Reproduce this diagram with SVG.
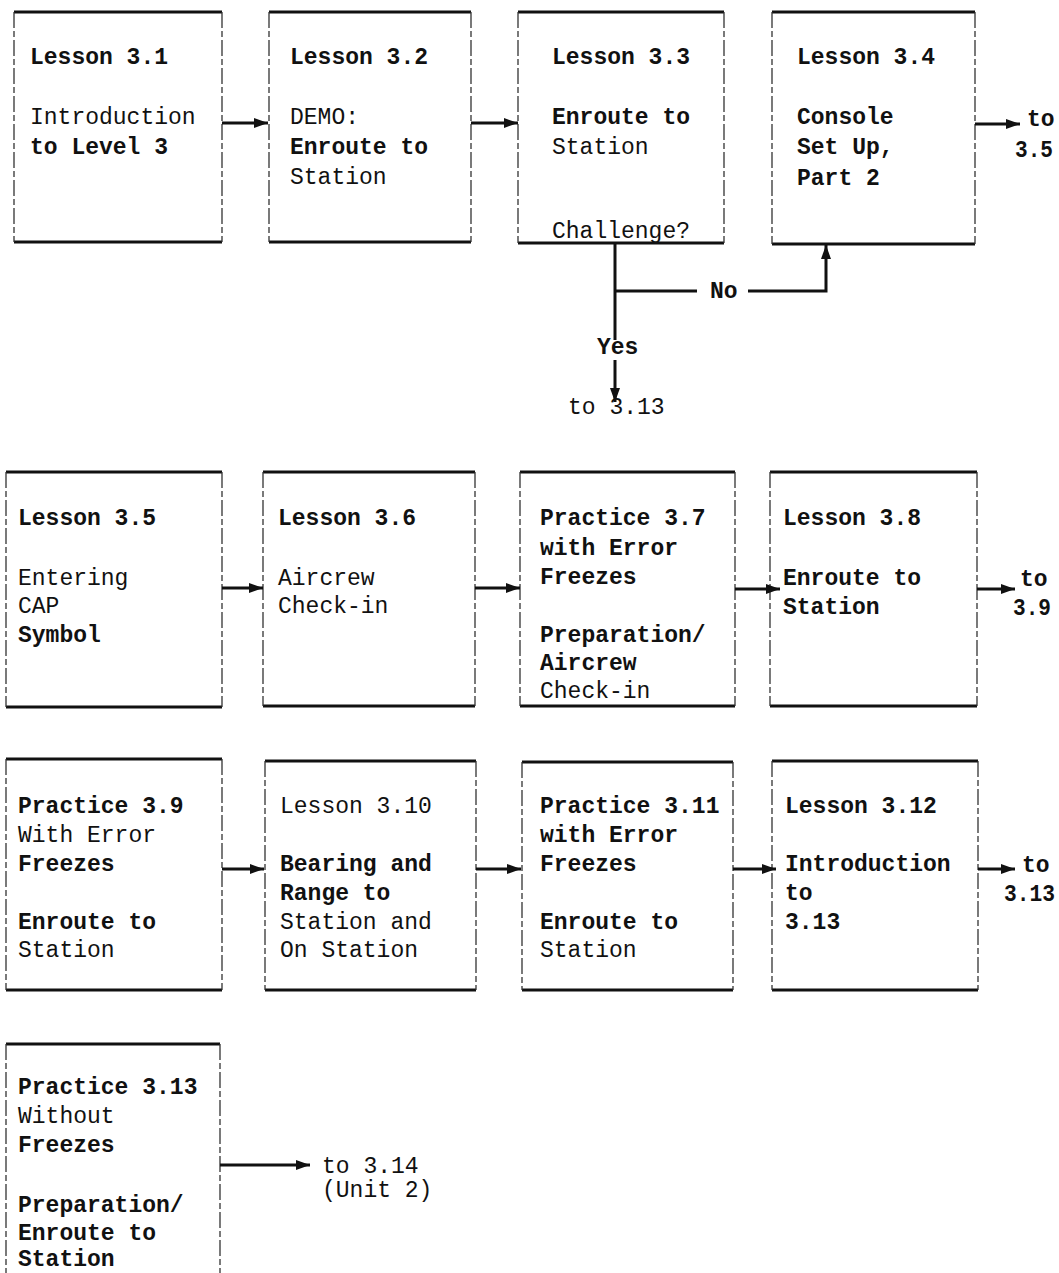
<svg xmlns="http://www.w3.org/2000/svg" width="1059" height="1273" viewBox="0 0 1059 1273">
<style>
  text { font-family: "Liberation Mono", "Courier New", monospace; font-size: 23px; fill: #111; }
  .b { font-weight: bold; }
  .edge { stroke: #111; stroke-width: 3; fill: none; }
  .side { stroke: #333; stroke-width: 1.3; fill: none; stroke-dasharray: 16 3 6 3; }
  .conn { stroke: #111; stroke-width: 3; fill: none; }
</style>
<defs>
  <marker id="ah" markerUnits="userSpaceOnUse" markerWidth="14" markerHeight="10" refX="14" refY="5" orient="auto">
    <path d="M0,0 L14,5 L0,10 z" fill="#111"/>
  </marker>
</defs>
<rect width="1059" height="1273" fill="#fff"/>

<g id="n31">
  <path class="edge" d="M14 12 H222 M14 242 H222"/>
  <path class="side" d="M14 12 V242 M222 12 V242"/>
  <text x="30" y="64" class="b">Lesson 3.1</text>
  <text x="30" y="124">Introduction</text>
  <text x="30" y="154" class="b">to Level 3</text>
</g>
<g id="n32">
  <path class="edge" d="M269 12 H471 M269 242 H471"/>
  <path class="side" d="M269 12 V242 M471 12 V242"/>
  <text x="290" y="64" class="b">Lesson 3.2</text>
  <text x="290" y="124">DEMO:</text>
  <text x="290" y="154" class="b">Enroute to</text>
  <text x="290" y="184">Station</text>
</g>
<g id="n33">
  <path class="edge" d="M518 12 H724 M518 243 H724"/>
  <path class="side" d="M518 12 V243 M724 12 V243"/>
  <text x="552" y="64" class="b">Lesson 3.3</text>
  <text x="552" y="124" class="b">Enroute to</text>
  <text x="552" y="154">Station</text>
  <text x="552" y="238">Challenge?</text>
</g>
<g id="n34">
  <path class="edge" d="M772 12 H975 M772 244 H975"/>
  <path class="side" d="M772 12 V244 M975 12 V244"/>
  <text x="797" y="64" class="b">Lesson 3.4</text>
  <text x="797" y="124" class="b">Console</text>
  <text x="797" y="154" class="b">Set Up,</text>
  <text x="797" y="185" class="b">Part 2</text>
</g>

<g id="n35">
  <path class="edge" d="M6 472 H222 M6 707 H222"/>
  <path class="side" d="M6 472 V707 M222 472 V707"/>
  <text x="18" y="525" class="b">Lesson 3.5</text>
  <text x="18" y="585">Entering</text>
  <text x="18" y="613">CAP</text>
  <text x="18" y="642" class="b">Symbol</text>
</g>
<g id="n36">
  <path class="edge" d="M263 472 H475 M263 706 H475"/>
  <path class="side" d="M263 472 V706 M475 472 V706"/>
  <text x="278" y="525" class="b">Lesson 3.6</text>
  <text x="278" y="585">Aircrew</text>
  <text x="278" y="613">Check-in</text>
</g>
<g id="n37">
  <path class="edge" d="M520 472 H735 M520 706 H735"/>
  <path class="side" d="M520 472 V706 M735 472 V706"/>
  <text x="540" y="525" class="b">Practice 3.7</text>
  <text x="540" y="555" class="b">with Error</text>
  <text x="540" y="584" class="b">Freezes</text>
  <text x="540" y="642" class="b">Preparation/</text>
  <text x="540" y="670" class="b">Aircrew</text>
  <text x="540" y="698">Check-in</text>
</g>
<g id="n38">
  <path class="edge" d="M770 472 H977 M770 706 H977"/>
  <path class="side" d="M770 472 V706 M977 472 V706"/>
  <text x="783" y="525" class="b">Lesson 3.8</text>
  <text x="783" y="585" class="b">Enroute to</text>
  <text x="783" y="614" class="b">Station</text>
</g>

<g id="n39">
  <path class="edge" d="M6 759 H222 M6 990 H222"/>
  <path class="side" d="M6 759 V990 M222 759 V990"/>
  <text x="18" y="813" class="b">Practice 3.9</text>
  <text x="18" y="842">With Error</text>
  <text x="18" y="871" class="b">Freezes</text>
  <text x="18" y="929" class="b">Enroute to</text>
  <text x="18" y="957">Station</text>
</g>
<g id="n310">
  <path class="edge" d="M265 761 H476 M265 990 H476"/>
  <path class="side" d="M265 761 V990 M476 761 V990"/>
  <text x="280" y="813">Lesson 3.10</text>
  <text x="280" y="871" class="b">Bearing and</text>
  <text x="280" y="900" class="b">Range to</text>
  <text x="280" y="929">Station and</text>
  <text x="280" y="957">On Station</text>
</g>
<g id="n311">
  <path class="edge" d="M522 762 H733 M522 990 H733"/>
  <path class="side" d="M522 762 V990 M733 762 V990"/>
  <text x="540" y="813" class="b">Practice 3.11</text>
  <text x="540" y="842" class="b">with Error</text>
  <text x="540" y="871" class="b">Freezes</text>
  <text x="540" y="929" class="b">Enroute to</text>
  <text x="540" y="957">Station</text>
</g>
<g id="n312">
  <path class="edge" d="M772 761 H978 M772 990 H978"/>
  <path class="side" d="M772 761 V990 M978 761 V990"/>
  <text x="785" y="813" class="b">Lesson 3.12</text>
  <text x="785" y="871" class="b">Introduction</text>
  <text x="785" y="900" class="b">to</text>
  <text x="785" y="929" class="b">3.13</text>
</g>

<g id="n313">
  <path class="edge" d="M6 1044 H220"/>
  <path class="side" d="M6 1044 V1273 M220 1044 V1273"/>
  <text x="18" y="1094" class="b">Practice 3.13</text>
  <text x="18" y="1123">Without</text>
  <text x="18" y="1152" class="b">Freezes</text>
  <text x="18" y="1212" class="b">Preparation/</text>
  <text x="18" y="1240" class="b">Enroute to</text>
  <text x="18" y="1266" class="b">Station</text>
</g>

<g id="connectors">
  <path class="conn" d="M222 123 H268" marker-end="url(#ah)"/>
  <path class="conn" d="M471 123 H518" marker-end="url(#ah)"/>
  <path class="conn" d="M975 124 H1020" marker-end="url(#ah)"/>
  <path class="conn" d="M615 243 V340"/>
  <path class="conn" d="M615 291 H697"/>
  <path class="conn" d="M748 291 H826 V245" marker-end="url(#ah)"/>
  <path class="conn" d="M615 360 V402" marker-end="url(#ah)"/>
  <path class="conn" d="M222 588 H263" marker-end="url(#ah)"/>
  <path class="conn" d="M475 588 H520" marker-end="url(#ah)"/>
  <path class="conn" d="M735 589 H780" marker-end="url(#ah)"/>
  <path class="conn" d="M977 589 H1015" marker-end="url(#ah)"/>
  <path class="conn" d="M222 869 H264" marker-end="url(#ah)"/>
  <path class="conn" d="M476 869 H521" marker-end="url(#ah)"/>
  <path class="conn" d="M733 869 H776" marker-end="url(#ah)"/>
  <path class="conn" d="M978 869 H1015" marker-end="url(#ah)"/>
  <path class="conn" d="M220 1165 H310" marker-end="url(#ah)"/>
</g>

<g id="labels">
  <text x="1027" y="126" class="b">to</text>
  <text x="1015" y="157" class="b" textLength="38" lengthAdjust="spacingAndGlyphs">3.5</text>
  <text x="710" y="298" class="b">No</text>
  <text x="597" y="354" class="b">Yes</text>
  <text x="568" y="414">to 3.13</text>
  <text x="1020" y="586" class="b">to</text>
  <text x="1013" y="615" class="b" textLength="38" lengthAdjust="spacingAndGlyphs">3.9</text>
  <text x="1022" y="872" class="b">to</text>
  <text x="1004" y="901" class="b" textLength="51" lengthAdjust="spacingAndGlyphs">3.13</text>
  <text x="322" y="1173">to 3.14</text>
  <text x="322" y="1197">(Unit 2)</text>
</g>
</svg>
